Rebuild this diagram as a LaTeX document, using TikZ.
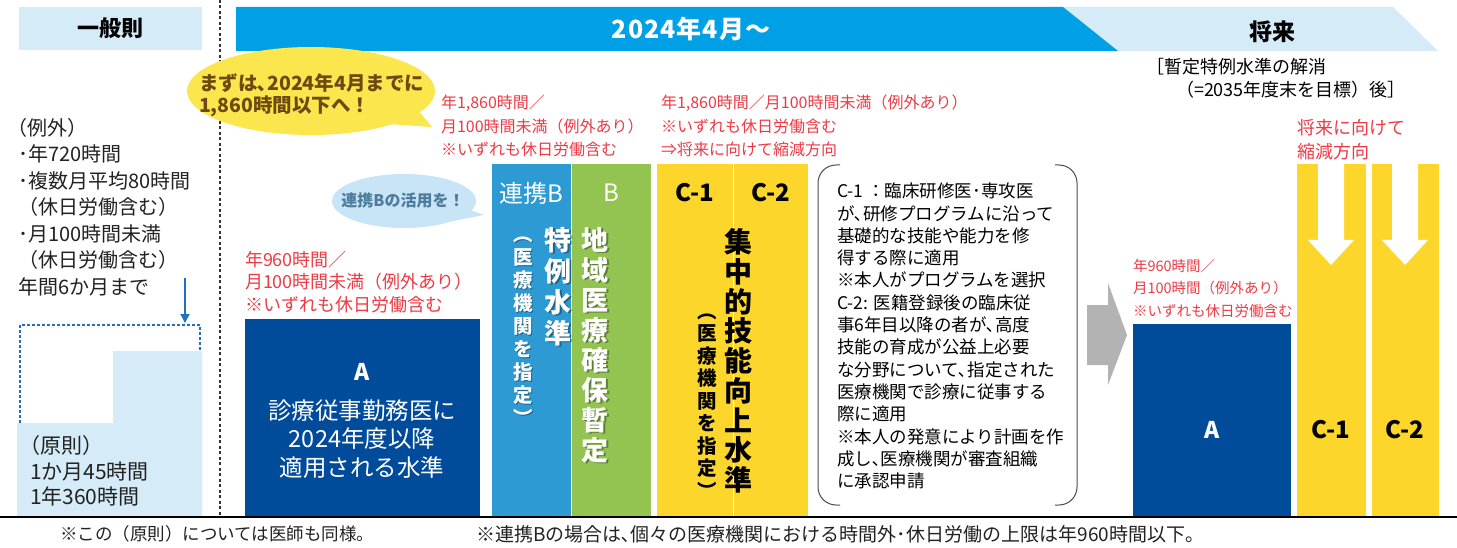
\documentclass[tikz,border=0pt]{standalone}
\usepackage{fontspec}
\setmainfont{Noto Sans CJK JP}
\usetikzlibrary{arrows.meta}
\definecolor{lblue}{HTML}{D6EBF8}
\definecolor{bannerblue}{HTML}{00A0E6}
\definecolor{ablue}{HTML}{004B9A}
\definecolor{rblue}{HTML}{2E9AD4}
\definecolor{bgreen}{HTML}{93C452}
\definecolor{cyellow}{HTML}{FDD62B}
\definecolor{redtxt}{HTML}{EC3B45}
\definecolor{bubyellow}{HTML}{FCE64E}
\definecolor{bubbrown}{HTML}{6E4A10}
\definecolor{bubblue}{HTML}{C8E5F7}
\definecolor{bubtxt}{HTML}{4D7C9C}
\definecolor{arrowgray}{HTML}{B3B3B3}
\definecolor{dashblue}{HTML}{2070C0}
\definecolor{txtgray}{HTML}{222222}
\newcommand{\setfs}[2]{\fontsize{#1}{#2}\selectfont}
\newcommand{\vstrt}{\rule{0pt}{0.88em}}
\begin{document}
\begin{tikzpicture}[x=1pt,y=-1pt,
  every node/.style={inner sep=0pt,outer sep=0pt},
  redlbl/.style={text=redtxt,align=left,anchor=north west},
  vwhite/.style={text=white,align=center,anchor=north},
  vshadow/.style={text=black,opacity=0.35,align=center,anchor=north},
  vblack/.style={text=black,align=center,anchor=north},
  colbox/.style={anchor=north west,minimum width=#1,minimum height=352pt}]
\useasboundingbox (0,0) rectangle (1457,548);
\fill[white] (0,0) rectangle (1457,548);

% headers
\node[fill=lblue,minimum width=183pt,minimum height=43pt,anchor=north west,font=\setfs{22}{22}\bfseries] (hgen) at (19,7) {一般則};
\fill[lblue] (1050,7) -- (1393,7) -- (1438,51) -- (1050,51) -- cycle;
\fill[bannerblue] (236,7) -- (1063,7) -- (1118,51) -- (236,51) -- cycle;
\node[text=white,font=\setfs{25}{25}\bfseries\addfontfeatures{LetterSpace=4}] (hnow) at (691,29) {2024年4月～};
\node[font=\setfs{23}{23}\bfseries] (hfut) at (1272,32) {将来};
\node[anchor=north west,align=left,font=\setfs{18}{23}] (hfutnote) at (1146,58) {［暫定特例水準の解消\\\hspace*{30pt}（=2035年度末を目標）後］};

% separator
\draw[dash pattern=on 3pt off 2.5pt,line width=1.1pt,black!80] (220,0) -- (220,516);

% left: general rule
\node[anchor=north west,align=left,text=txtgray,font=\setfs{20}{26.5}] (exc) at (18,118) {\hspace*{-10pt}（例外）\\･年720時間\\･複数月平均80時間\\（休日労働含む）\\･月100時間未満\\（休日労働含む）\\年間6か月まで};
\fill[lblue] (17,423) -- (113,423) -- (113,351) -- (202,351) -- (202,516) -- (17,516) -- cycle;
\draw[dashblue,dash pattern=on 3pt off 2pt,line width=1.2pt] (20,423) -- (20,325) -- (200,325) -- (200,351);
\coordinate (exctip) at (185,278);
\coordinate (capin) at (185,323);
\draw[dashblue,line width=1.3pt,-{Triangle[length=9pt,width=9pt]}] (exctip) -- (capin);
\node[anchor=north west,align=left,text=txtgray,font=\setfs{21}{25.5}] (prin) at (30,436) {\hspace*{-10pt}（原則）\\1か月45時間\\1年360時間};

% bubbles
\fill[bubyellow] (311,91) ellipse [x radius=124pt,y radius=44pt];
\fill[bubyellow] (388,124) -- (432,127) -- (418,110) -- cycle;
\node[anchor=north west,align=left,text=bubbrown,font=\setfs{19.5}{22}\bfseries] (bubA) at (199,74) {まずは､2024年4月までに\\1,860時間以下へ！};
\fill[bubblue] (404,201) ellipse [x radius=72pt,y radius=27pt];
\fill[bubblue] (460,206) -- (484,215) -- (448,222) -- cycle;
\node[text=bubtxt,font=\setfs{16}{16}\bfseries] (bubB) at (403,200) {連携Bの活用を！};

% A level (2024)
\node[redlbl,font=\setfs{18}{22.5}] (redA) at (245,251) {年960時間／\\月100時間未満（例外あり）\\※いずれも休日労働含む};
\node[fill=ablue,anchor=north west,minimum width=235pt,minimum height=197pt] (boxA) at (245,319) {};
\node[text=white,font=\setfs{23}{23}\bfseries] (boxAlbl) at (362,372) {A};
\node[text=white,align=center,font=\setfs{23.5}{28.5}] (boxAdesc) at (362,439) {診療従事勤務医に\\2024年度以降\\適用される水準};

% B levels
\node[redlbl,font=\setfs{16}{23.5}] (redB) at (441,95) {年1,860時間／\\月100時間未満（例外あり）\\※いずれも休日労働含む};
\node[colbox=79pt,fill=rblue] (colRB) at (492,164) {};
\node[colbox=79pt,fill=bgreen] (colB) at (572,164) {};
\node[text=white,font=\setfs{24}{24}] (lblRB) at (531,193) {連携B};
\node[text=white,font=\setfs{24}{24}] (lblB) at (611,193) {B};
\node[vshadow,font=\setfs{19.5}{23}\bfseries] at (524.5,225.5) {\vstrt{}︵\\医\\療\\機\\関\\を\\指\\定\\︶};
\node[vwhite,font=\setfs{19.5}{23}\bfseries] (vRB2) at (523,224) {\vstrt{}︵\\医\\療\\機\\関\\を\\指\\定\\︶};
\node[vshadow,font=\setfs{27}{31}\bfseries] at (559.5,228) {\vstrt{}特\\例\\水\\準};
\node[vwhite,font=\setfs{27}{31}\bfseries] (vRB1) at (558,226.5) {\vstrt{}特\\例\\水\\準};
\node[vshadow,font=\setfs{27}{30}\bfseries] at (596.5,228) {\vstrt{}地\\域\\医\\療\\確\\保\\暫\\定};
\node[vwhite,font=\setfs{27}{30}\bfseries] (vB) at (595,226.5) {\vstrt{}地\\域\\医\\療\\確\\保\\暫\\定};

% C levels
\node[redlbl,font=\setfs{16}{23.5}] (redC) at (661,95) {年1,860時間／月100時間未満（例外あり）\\※いずれも休日労働含む\\⇒将来に向けて縮減方向};
\node[colbox=76pt,fill=cyellow] (colC1) at (657,164) {};
\node[colbox=75pt,fill=cyellow] (colC2) at (733,164) {};
\draw[white,line width=0.8pt] (733,164) -- (733,516);
\node[font=\setfs{24}{24}\bfseries] (lblC1) at (695,193) {C-1};
\node[font=\setfs{24}{24}\bfseries] (lblC2) at (771,193) {C-2};
\node[vblack,font=\setfs{28}{29.75}\bfseries] (vC1) at (738,228) {\vstrt{}集\\中\\的\\技\\能\\向\\上\\水\\準};
\node[vblack,font=\setfs{19.5}{22.5}\bfseries] (vC2) at (707,301) {\vstrt{}︵\\医\\療\\機\\関\\を\\指\\定\\︶};

% explanation box
\draw[black!70,line width=1pt,rounded corners=18pt] (840,165) -- (818,165) -- (818,505) -- (840,505);
\draw[black!70,line width=1pt,rounded corners=18pt] (1055,165) -- (1077,165) -- (1077,505) -- (1055,505);
\node[anchor=north west,align=left,font=\setfs{17.5}{22.3}] (expl) at (837,183) {C-1 ：臨床研修医･専攻医\\が､研修プログラムに沿って\\基礎的な技能や能力を修\\得する際に適用\\※本人がプログラムを選択\\C-2: 医籍登録後の臨床従\\事6年目以降の者が､高度\\技能の育成が公益上必要\\な分野について､指定された\\医療機関で診療に従事する\\際に適用\\※本人の発意により計画を作\\成し､医療機関が審査組織\\に承認申請};

% transition arrow
\fill[arrowgray] (1087,305) -- (1108,305) -- (1108,283) -- (1127,335) -- (1108,385) -- (1108,365) -- (1087,365) -- cycle;

% future
\node[redlbl,font=\setfs{14.5}{22.5}] (redF) at (1133,259) {年960時間／\\月100時間（例外あり）\\※いずれも休日労働含む};
\node[fill=ablue,anchor=north west,minimum width=158pt,minimum height=192pt] (boxFA) at (1133,324) {};
\node[text=white,font=\setfs{23}{23}\bfseries] (lblFA) at (1212,430) {A};
\node[redlbl,font=\setfs{18}{24}] (redFC) at (1297,119) {将来に向けて\\縮減方向};
\node[anchor=north west,fill=cyellow,minimum width=69pt,minimum height=352pt] (colFC1) at (1297,164) {};
\node[anchor=north west,fill=cyellow,minimum width=67pt,minimum height=352pt] (colFC2) at (1372,164) {};
\fill[white] (1318,164) -- (1344,164) -- (1344,240) -- (1354,240) -- (1331,265) -- (1308,240) -- (1318,240) -- cycle;
\fill[white] (1392,164) -- (1418,164) -- (1418,240) -- (1428,240) -- (1405,265) -- (1382,240) -- (1392,240) -- cycle;
\node[font=\setfs{24}{24}\bfseries] (lblFC1) at (1331,430) {C-1};
\node[font=\setfs{24}{24}\bfseries] (lblFC2) at (1405,430) {C-2};

% footer
\draw[black,line width=2pt] (0,517) -- (1457,517);
\node[anchor=west,text=txtgray,font=\setfs{17.5}{17.5}] (foot1) at (60,534) {※この（原則）については医師も同様。};
\node[anchor=west,text=txtgray,font=\setfs{19}{19}] (foot2) at (476,534) {※連携Bの場合は､個々の医療機関における時間外･休日労働の上限は年960時間以下。};
\end{tikzpicture}
\end{document}
